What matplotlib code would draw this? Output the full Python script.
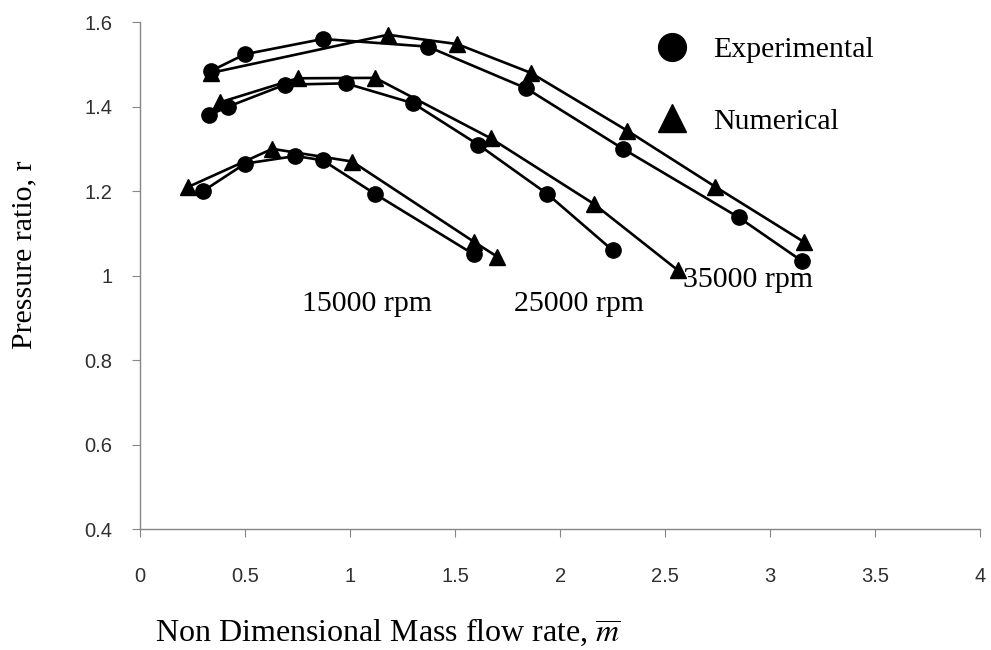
import matplotlib
matplotlib.use('Agg')
import matplotlib.pyplot as plt
from matplotlib.lines import Line2D

# data
exp_15000_x = [0.30, 0.50, 0.74, 0.87, 1.12, 1.59]
exp_15000_y = [1.20, 1.265, 1.283, 1.273, 1.193, 1.05]
num_15000_x = [0.23, 0.63, 1.01, 1.59, 1.70]
num_15000_y = [1.21, 1.30, 1.27, 1.08, 1.045]

exp_25000_x = [0.33, 0.42, 0.69, 0.98, 1.30, 1.61, 1.94, 2.25]
exp_25000_y = [1.38, 1.40, 1.452, 1.455, 1.408, 1.31, 1.193, 1.06]
num_25000_x = [0.38, 0.75, 1.12, 1.67, 2.16, 2.56]
num_25000_y = [1.41, 1.467, 1.468, 1.325, 1.17, 1.013]

exp_35000_x = [0.34, 0.50, 0.87, 1.37, 1.84, 2.30, 2.85, 3.15]
exp_35000_y = [1.485, 1.524, 1.56, 1.542, 1.443, 1.30, 1.138, 1.035]
num_35000_x = [0.34, 1.18, 1.51, 1.86, 2.32, 2.74, 3.16]
num_35000_y = [1.48, 1.57, 1.548, 1.48, 1.343, 1.21, 1.08]

speed_labels = ['15000 rpm', '25000 rpm', '35000 rpm']
speed_label_x = [1.083, 2.09, 2.895]
speed_label_y = [0.933, 0.933, 0.99]

serif = 'Liberation Serif'
fs = 21.5

fig = plt.figure(figsize=(9.91, 6.5), dpi=100)
ax = fig.add_axes([0.1413, 0.186, 0.8477, 0.780])

for xs, ys in [(exp_15000_x, exp_15000_y), (exp_25000_x, exp_25000_y), (exp_35000_x, exp_35000_y)]:
    ax.plot(xs, ys, color='black', lw=1.9, marker='o', ms=11, mfc='black', mec='black', zorder=3)
for xs, ys in [(num_15000_x, num_15000_y), (num_25000_x, num_25000_y), (num_35000_x, num_35000_y)]:
    ax.plot(xs, ys, color='black', lw=1.9, marker='^', ms=11, mfc='black', mec='black', zorder=3)

for lab, lx, ly in zip(speed_labels, speed_label_x, speed_label_y):
    ax.text(lx, ly, lab, fontsize=fs, family=serif, ha='center', va='center')

ax.set_xlim(0, 4)
ax.set_ylim(0.4, 1.6)
ax.set_xticks([0, 0.5, 1, 1.5, 2, 2.5, 3, 3.5, 4])
ax.set_xticklabels(['0', '0.5', '1', '1.5', '2', '2.5', '3', '3.5', '4'])
ax.set_yticks([0.4, 0.6, 0.8, 1.0, 1.2, 1.4, 1.6])
ax.set_yticklabels(['0.4', '0.6', '0.8', '1', '1.2', '1.4', '1.6'])
for s in ['top', 'right']:
    ax.spines[s].set_visible(False)
for s in ['left', 'bottom']:
    ax.spines[s].set_color('#868686')
    ax.spines[s].set_linewidth(1.0)
ax.tick_params(axis='both', direction='out', length=6, color='#868686',
               labelsize=14.5, labelcolor='#303030')
ax.tick_params(axis='y', pad=14)
ax.tick_params(axis='x', pad=21)
for t in ax.get_xticklabels() + ax.get_yticklabels():
    t.set_family('Liberation Sans')

handles = [Line2D([], [], ls='none', marker='o', ms=20, color='black'),
           Line2D([], [], ls='none', marker='^', ms=20, color='black')]
ax.legend(handles, ['Experimental', 'Numerical'], loc='upper left',
          bbox_to_anchor=(0.583, 1.025), frameon=False,
          prop={'family': serif, 'size': fs}, labelspacing=1.5,
          handletextpad=0.9, handlelength=1.0)

fig.text(24 / 991, 1 - 255 / 650, 'Pressure ratio, r', rotation=90,
         fontsize=fs, family=serif, ha='center', va='center')
fig.text(155 / 991, 1 - 632 / 650, r'Non Dimensional Mass flow rate, $\overline{m}$',
         fontsize=23, family=serif, ha='left', va='center', math_fontfamily='stix')

fig.savefig('out.png', dpi=100)
